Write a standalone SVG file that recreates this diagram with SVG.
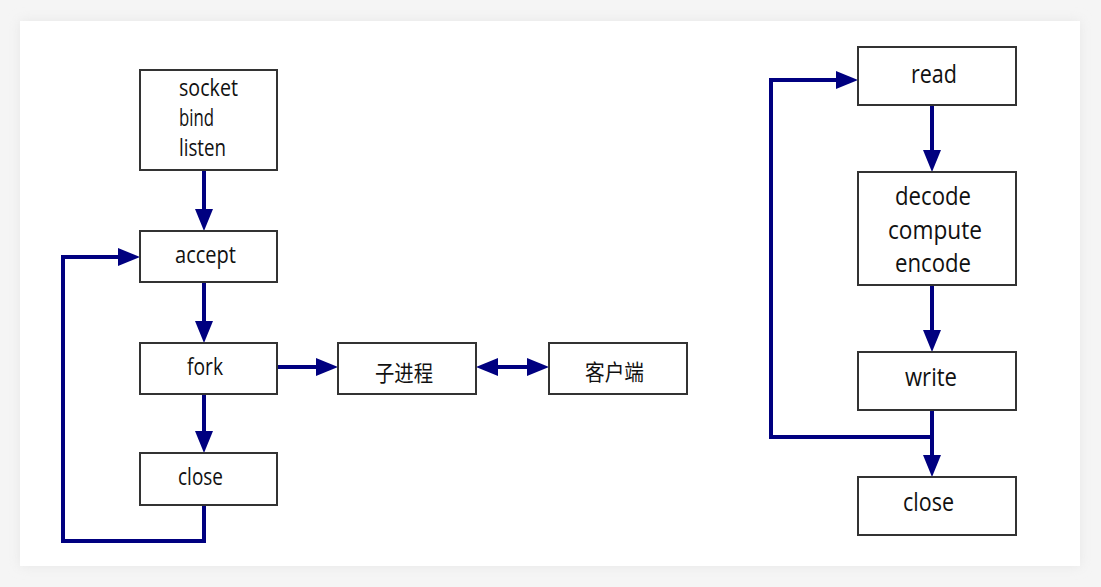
<svg xmlns="http://www.w3.org/2000/svg" width="1101" height="587" viewBox="0 0 1101 587">
<defs>
<filter id="sh" x="-5%" y="-5%" width="110%" height="110%">
<feGaussianBlur stdDeviation="6"/>
</filter>
<marker id="ah" markerUnits="userSpaceOnUse" markerWidth="22" markerHeight="18" viewBox="0 0 22 18" refX="10" refY="9" orient="auto-start-reverse">
<path d="M0,0 L22,9 L0,18 z" fill="#000080"/>
</marker>
<style>
.box{fill:#fff;stroke:#333;stroke-width:2}
.t{font-family:"Open Sans","Noto Sans CJK SC",sans-serif;font-size:23px;fill:#111;text-anchor:middle}
.tl{text-anchor:start}
.r{font-size:25px}
.z{font-family:"Noto Sans CJK SC",sans-serif;font-size:22px}
.c{stroke:#000080;stroke-width:4;fill:none}
</style>
</defs>
<rect width="1101" height="587" fill="#f5f5f5"/>
<rect x="20" y="21" width="1060" height="545" fill="#e6e6e6" filter="url(#sh)"/>
<rect x="20" y="21" width="1060" height="545" fill="#fff"/>

<g id="connectors">
<path class="c" d="M204,170 V219" marker-end="url(#ah)"/>
<path class="c" d="M204,282 V331" marker-end="url(#ah)"/>
<path class="c" d="M204,394 V441" marker-end="url(#ah)"/>
<path class="c" d="M204,505 V541 H63 V257 H128" marker-end="url(#ah)"/>
<path class="c" d="M277,367 H326" marker-end="url(#ah)"/>
<path class="c" d="M488,367 H537" marker-start="url(#ah)" marker-end="url(#ah)"/>
<path class="c" d="M932,105 V160" marker-end="url(#ah)"/>
<path class="c" d="M932,285 V340" marker-end="url(#ah)"/>
<path class="c" d="M932,410 V465" marker-end="url(#ah)"/>
<path class="c" d="M932,437 H771 V80 H846" marker-end="url(#ah)"/>
</g>

<g id="socket">
<rect class="box" x="140" y="70" width="137" height="100"/>
<text class="t tl" x="179" y="96" textLength="59" lengthAdjust="spacingAndGlyphs">socket</text>
<text class="t tl" x="179" y="126" textLength="35" lengthAdjust="spacingAndGlyphs">bind</text>
<text class="t tl" x="179" y="156" textLength="47" lengthAdjust="spacingAndGlyphs">listen</text>
</g>
<g id="accept">
<rect class="box" x="140" y="231" width="137" height="51"/>
<text class="t" x="205.5" y="263" textLength="61" lengthAdjust="spacingAndGlyphs">accept</text>
</g>
<g id="fork">
<rect class="box" x="140" y="343" width="137" height="51"/>
<text class="t" x="205" y="375" textLength="36" lengthAdjust="spacingAndGlyphs">fork</text>
</g>
<g id="close1">
<rect class="box" x="140" y="453" width="137" height="52"/>
<text class="t" x="200.5" y="485" textLength="45" lengthAdjust="spacingAndGlyphs">close</text>
</g>
<g id="child">
<rect class="box" x="338" y="343" width="138" height="51"/>
<text class="t z" x="404" y="381" textLength="58" lengthAdjust="spacingAndGlyphs">子进程</text>
</g>
<g id="client">
<rect class="box" x="549" y="343" width="138" height="51"/>
<text class="t z" x="614.5" y="380" textLength="59" lengthAdjust="spacingAndGlyphs">客户端</text>
</g>

<g id="read">
<rect class="box" x="858" y="47" width="158" height="58"/>
<text class="t r" x="934" y="83" textLength="46" lengthAdjust="spacingAndGlyphs">read</text>
</g>
<g id="process">
<rect class="box" x="858" y="172" width="158" height="113"/>
<text class="t r" x="933" y="205" textLength="76" lengthAdjust="spacingAndGlyphs">decode</text>
<text class="t r" x="935" y="239" textLength="94" lengthAdjust="spacingAndGlyphs">compute</text>
<text class="t r" x="933" y="272" textLength="76" lengthAdjust="spacingAndGlyphs">encode</text>
</g>
<g id="write">
<rect class="box" x="858" y="352" width="158" height="58"/>
<text class="t r" x="931" y="386" textLength="52" lengthAdjust="spacingAndGlyphs">write</text>
</g>
<g id="close2">
<rect class="box" x="858" y="477" width="158" height="58"/>
<text class="t r" x="928.5" y="511" textLength="51" lengthAdjust="spacingAndGlyphs">close</text>
</g>
</svg>
